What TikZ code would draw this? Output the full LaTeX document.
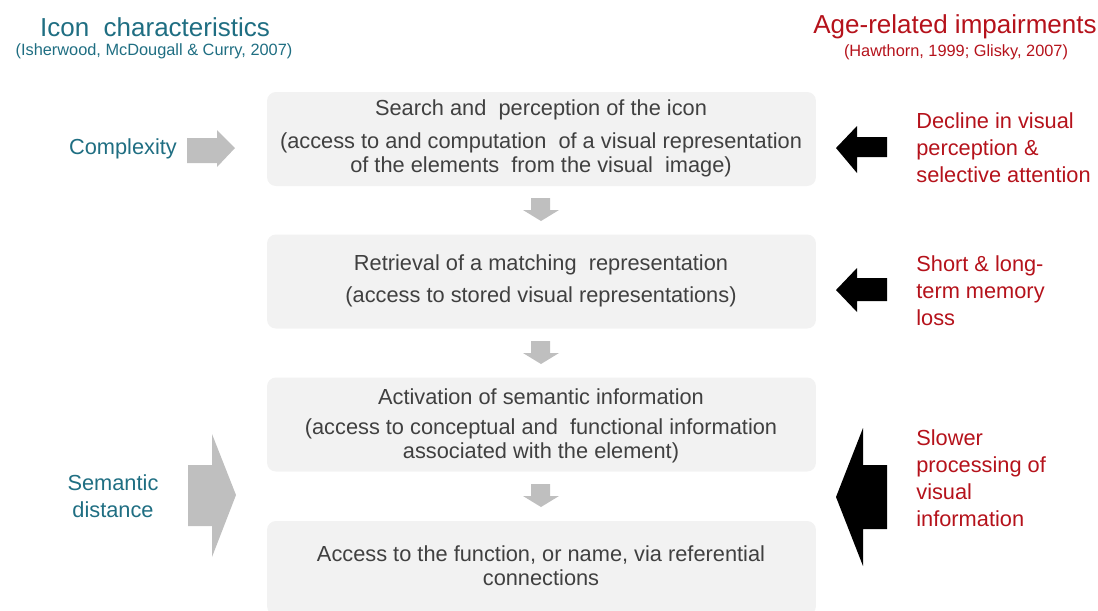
\documentclass[tikz,border=0pt]{standalone}
\usepackage{fontspec}
\setmainfont{Liberation Sans}
\usetikzlibrary{positioning}
\definecolor{iconteal}{HTML}{1F6E82}
\definecolor{agered}{HTML}{B5121B}
\definecolor{stagefill}{HTML}{F2F2F2}
\definecolor{arrowgray}{HTML}{BFBFBF}
\definecolor{textgray}{HTML}{404040}
\begin{document}
\begin{tikzpicture}[x=0.02cm, y=-0.02cm, every node/.style={inner sep=0pt, font=\fontsize{12.4}{13.6}\selectfont},
	stage/.style={fill=stagefill, rounded corners=5pt, minimum width=10.98cm, minimum height=1.88cm},
	stagetxt/.style={text=textgray, align=center},
	cause/.style={text=agered, align=left, anchor=west, font=\fontsize{12.4}{15.3}\selectfont},
	factor/.style={text=iconteal, align=center, font=\fontsize{12.4}{15.3}\selectfont},
	greyarrow/.style={fill=arrowgray}, blackarrow/.style={fill=black}]
	\useasboundingbox (0,0) rectangle (1098,610);
	% column heads
	\node[text=iconteal, font=\fontsize{14.8}{16}\selectfont] (lhead) at (155,27) {Icon\ \ characteristics};
	\node[text=iconteal, font=\fontsize{9.3}{11}\selectfont] (lsub) at (154,51) {(Isherwood, McDougall \& Curry, 2007)};
	\node[text=agered, font=\fontsize{14.8}{16}\selectfont] (rhead) at (955,27) {Age-related impairments};
	\node[text=agered, font=\fontsize{9.3}{11}\selectfont] (rsub) at (956,52) {(Hawthorn, 1999; Glisky, 2007)};
	% the four stages
	\node[stage] (search) at (541.5,139) {};
	\node[stage] (retrieve) at (541.5,281.5) {};
	\node[stage] (activate) at (541.5,424.5) {};
	\node[stage] (access) at (541.5,568) {};
	\node[stagetxt] (searcht) at (541,110) {Search and\ \ perception of the icon};
	\node[stagetxt] (searchd) at (541,154.5) {(access to and computation\ \ of a visual representation\\of the elements\ \ from the visual\ \ image)};
	\node[stagetxt] (retrievet) at (541,265) {Retrieval of a matching\ \ representation};
	\node[stagetxt] (retrieved) at (541,297) {(access to stored visual representations)};
	\node[stagetxt] (activatet) at (541,397) {Activation of semantic information};
	\node[stagetxt] (activated) at (541,440.5) {(access to conceptual and\ \ functional information\\associated with the element)};
	\node[stagetxt] (accesst) at (541,566) {Access to the function, or name, via referential\\connections};
	\foreach \y in {198,341,484} {\fill[greyarrow] (531,\y) -- (550,\y) -- (550,\y+12) -- (559,\y+12) -- (541,\y+23) -- (523,\y+12) -- (531,\y+12) -- cycle;}
	% icon characteristics
	\node[factor] (complex) at (123,149) {Complexity};
	\node[factor] (semdist) at (113,496) {Semantic\\distance};
	\fill[greyarrow] (187,138) -- (217,138) -- (217,130) -- (235,148) -- (217,167) -- (217,163) -- (187,163) -- cycle;
	\fill[greyarrow] (188,465) -- (212,465) -- (212,434) -- (236,495) -- (212,557) -- (212,526) -- (188,526) -- cycle;
	% age-related impairments
	\node[cause] (decline) at (916,148) {Decline in visual\\perception \&\\selective attention};
	\node[cause] (memory) at (916,291) {Short \& long-\\term memory\\loss};
	\node[cause] (slower) at (916,478) {Slower\\processing of\\visual\\information};
	\fill[blackarrow] (887,137) -- (857,137) -- (857,126) -- (836,148) -- (857,173) -- (857,157) -- (887,157) -- cycle;
	\fill[blackarrow] (887,278) -- (857,278) -- (857,268) -- (836,290) -- (857,312) -- (857,301) -- (887,301) -- cycle;
	\fill[blackarrow] (887,465) -- (863,465) -- (863,428) -- (836,497) -- (863,566) -- (863,529) -- (887,529) -- cycle;
\end{tikzpicture}
\end{document}
